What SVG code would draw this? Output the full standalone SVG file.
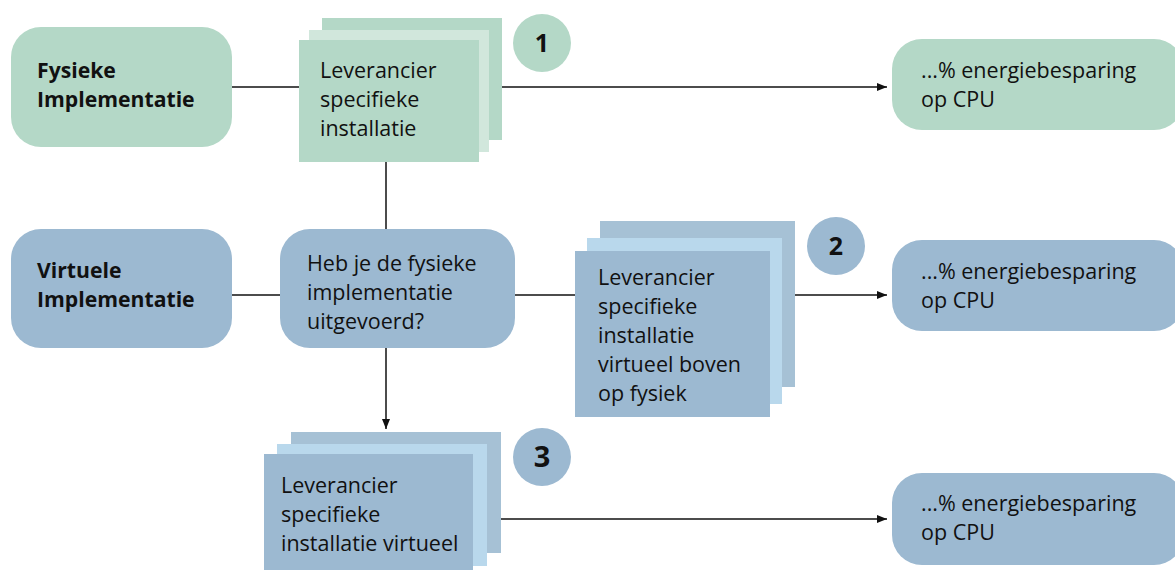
<svg xmlns="http://www.w3.org/2000/svg" width="1175" height="570" viewBox="0 0 1175 570">
<style>
.t{font-family:"Open Sans","Noto Sans",sans-serif;font-size:21.5px;fill:#111}
.b{font-weight:bold;font-size:21.2px}
.n{font-family:"Open Sans","Noto Sans",sans-serif;font-size:25px;font-weight:bold;fill:#111;text-anchor:middle}
.g{fill:#b4d8c7}
.gl{fill:#d1e7dc}
.bl{fill:#9cb9d1}
.bb{fill:#a6c1d5}
.bm{fill:#b9d8ec}
.ln{stroke:#111;stroke-width:1.5;fill:none}
</style>
<defs>
<marker id="ah" viewBox="0 0 10 10" refX="10" refY="5" markerWidth="10" markerHeight="10" markerUnits="userSpaceOnUse" orient="auto">
<path d="M0,1 L10,5 L0,9 Z" fill="#111"/>
</marker>
</defs>
<rect width="1175" height="570" fill="#fff"/>
<g id="connectors">
<line class="ln" x1="232" y1="87" x2="300" y2="87"/>
<line class="ln" x1="501" y1="87" x2="887" y2="87" marker-end="url(#ah)"/>
<line class="ln" x1="386" y1="162" x2="386" y2="229"/>
<line class="ln" x1="232" y1="295" x2="280" y2="295"/>
<line class="ln" x1="515" y1="295" x2="575" y2="295"/>
<line class="ln" x1="795" y1="295" x2="887" y2="295" marker-end="url(#ah)"/>
<line class="ln" x1="386" y1="348" x2="386" y2="429" marker-end="url(#ah)"/>
<line class="ln" x1="501" y1="519" x2="887" y2="519" marker-end="url(#ah)"/>
</g>
<g id="fysieke">
<rect class="g" x="11" y="27" width="221" height="120" rx="30"/>
<text class="t b" x="37" y="78">Fysieke</text>
<text class="t b" x="37" y="107">Implementatie</text>
</g>
<g id="stack1">
<rect class="g" x="322" y="18" width="180" height="122"/>
<rect class="gl" x="309" y="30" width="180" height="122"/>
<rect class="g" x="299" y="40" width="180" height="122"/>
<text class="t" x="320" y="78">Leverancier</text>
<text class="t" x="320" y="107">specifieke</text>
<text class="t" x="320" y="136">installatie</text>
</g>
<g id="badge1">
<circle class="g" cx="542" cy="43" r="29"/>
<text class="n" x="542" y="52">1</text>
</g>
<g id="result1">
<rect class="g" x="892" y="39" width="292" height="91" rx="30"/>
<text class="t" x="921" y="78">...% energiebesparing</text>
<text class="t" x="921" y="107">op CPU</text>
</g>
<g id="virtuele">
<rect class="bl" x="11" y="229" width="221" height="119" rx="30"/>
<text class="t b" x="37" y="278">Virtuele</text>
<text class="t b" x="37" y="307">Implementatie</text>
</g>
<g id="vraag">
<rect class="bl" x="280" y="229" width="235" height="119" rx="30"/>
<text class="t" x="307" y="271">Heb je de fysieke</text>
<text class="t" x="307" y="300">implementatie</text>
<text class="t" x="307" y="329">uitgevoerd?</text>
</g>
<g id="stack2">
<rect class="bb" x="600" y="221" width="195" height="166"/>
<rect class="bm" x="587" y="238" width="195" height="166"/>
<rect class="bl" x="575" y="251" width="195" height="166"/>
<text class="t" x="598" y="285">Leverancier</text>
<text class="t" x="598" y="314">specifieke</text>
<text class="t" x="598" y="343">installatie</text>
<text class="t" x="598" y="372">virtueel boven</text>
<text class="t" x="598" y="401">op fysiek</text>
</g>
<g id="badge2">
<circle class="bl" cx="836" cy="246" r="29"/>
<text class="n" x="836" y="255">2</text>
</g>
<g id="result2">
<rect class="bl" x="892" y="240" width="292" height="91" rx="30"/>
<text class="t" x="921" y="279">...% energiebesparing</text>
<text class="t" x="921" y="308">op CPU</text>
</g>
<g id="stack3">
<rect class="bb" x="291" y="432" width="210" height="121"/>
<rect class="bm" x="277" y="444" width="210" height="122"/>
<rect class="bl" x="264" y="454" width="209" height="120"/>
<text class="t" x="281" y="493">Leverancier</text>
<text class="t" x="281" y="522">specifieke</text>
<text class="t" x="281" y="551">installatie virtueel</text>
</g>
<g id="badge3">
<circle class="bl" cx="542" cy="457" r="29"/>
<text class="n" x="542" y="467" style="font-size:29px">3</text>
</g>
<g id="result3">
<rect class="bl" x="892" y="473" width="292" height="92" rx="30"/>
<text class="t" x="921" y="511">...% energiebesparing</text>
<text class="t" x="921" y="540">op CPU</text>
</g>
</svg>
